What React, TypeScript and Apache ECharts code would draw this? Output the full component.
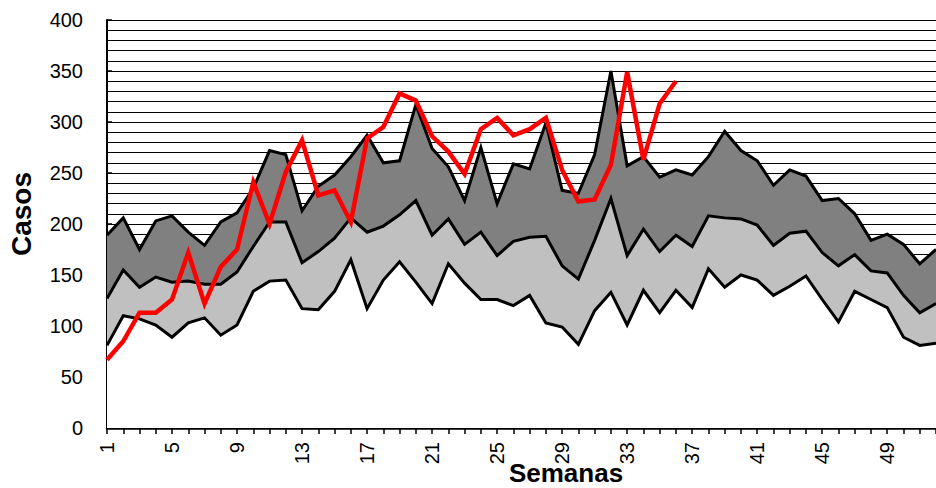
import React, { useEffect, useRef } from "react";
import * as echarts from "echarts";

const weeks = ["1","2","3","4","5","6","7","8","9","10","11","12","13","14","15","16","17","18","19","20","21","22","23","24","25","26","27","28","29","30","31","32","33","34","35","36","37","38","39","40","41","42","43","44","45","46","47","48","49","50","51","52"];

const upperBand = [189, 206, 175, 203, 208, 192, 179, 202, 211, 235, 272, 268, 213, 237, 248, 266, 287, 260, 262, 317, 274, 256, 223, 275, 220, 259, 254, 299, 233, 230, 268, 350, 257, 266, 246, 253, 248, 266, 291, 272, 262, 238, 253, 247, 223, 225, 210, 184, 190, 180, 161, 175];

const middleBand = [127, 155, 138, 148, 143, 144, 141, 141, 153, 178, 202, 202, 162, 173, 186, 206, 192, 198, 209, 223, 189, 205, 180, 192, 169, 183, 187, 188, 159, 146, 184, 225, 169, 195, 173, 189, 178, 208, 206, 205, 199, 179, 191, 193, 172, 159, 170, 154, 152, 130, 113, 122];

const lowerBand = [81, 110, 107, 101, 89, 103, 108, 91, 101, 134, 144, 145, 117, 116, 134, 165, 117, 145, 163, 143, 122, 161, 142, 126, 126, 120, 130, 103, 99, 82, 115, 133, 101, 135, 113, 135, 118, 156, 138, 150, 145, 130, 139, 149, 126, 104, 134, 126, 118, 89, 81, 83];

const currentYear = [67, 85, 113, 113, 126, 172, 122, 158, 175, 241, 200, 251, 282, 228, 233, 202, 284, 295, 328, 321, 286, 271, 249, 293, 304, 287, 293, 304, 253, 222, 224, 258, 349, 263, 318, 340];

const yTitle = "Casos";
const xTitle = "Semanas";

const FONT = "'Liberation Sans', Arial, sans-serif";

export default function App() {
  const ref = useRef<HTMLDivElement>(null);

  useEffect(() => {
    if (!ref.current) return;
    const chart = echarts.init(ref.current, null, { renderer: "svg" });
    const bandLine = { color: "#000", width: 3, join: "miter" as const };
    chart.setOption({
      animation: false,
      backgroundColor: "#fff",
      grid: { left: 107, top: 20, width: 835, height: 408, containLabel: false },
      xAxis: [
        {
          type: "category",
          data: weeks,
          boundaryGap: false,
          position: "bottom",
          axisLine: { show: true, lineStyle: { color: "#000", width: 2.5 } },
          axisTick: { show: true, interval: 0, length: 6, lineStyle: { color: "#000", width: 1.5 } },
          axisLabel: {
            interval: 3,
            rotate: 90,
            margin: 14,
            color: "#000",
            fontSize: 20,
            fontFamily: FONT,
          },
          splitLine: { show: false },
        },
        {
          type: "category",
          data: weeks,
          boundaryGap: false,
          position: "bottom",
          axisLine: { show: false },
          axisTick: { show: true, inside: true, interval: 0, length: 6, lineStyle: { color: "#000", width: 1.5 } },
          axisLabel: { show: false },
          splitLine: { show: false },
        },
      ],
      yAxis: [
        {
          type: "value",
          min: 0,
          max: 400,
          interval: 10,
          position: "left",
          axisLine: { show: true, lineStyle: { color: "#000", width: 2 } },
          axisTick: { show: false },
          axisLabel: { show: false },
          splitLine: { show: true, lineStyle: { color: "#000", width: 1 } },
        },
        {
          type: "value",
          min: 0,
          max: 400,
          interval: 50,
          position: "left",
          axisLine: { show: false },
          axisTick: { show: true, inside: true, length: 5, lineStyle: { color: "#000", width: 1.5 } },
          axisLabel: { color: "#000", fontSize: 20, fontFamily: FONT, margin: 24 },
          splitLine: { show: false },
        },
      ],
      series: [
        {
          type: "line",
          data: upperBand,
          symbol: "none",
          lineStyle: bandLine,
          areaStyle: { color: "#808080", opacity: 1 },
        },
        {
          type: "line",
          data: middleBand,
          symbol: "none",
          lineStyle: bandLine,
          areaStyle: { color: "#C0C0C0", opacity: 1 },
        },
        {
          type: "line",
          data: lowerBand,
          symbol: "none",
          lineStyle: bandLine,
          areaStyle: { color: "#FFFFFF", opacity: 1 },
        },
        {
          type: "line",
          data: currentYear,
          symbol: "none",
          lineStyle: { color: "#FF0000", width: 4.5, join: "miter" },
        },
      ],
      graphic: [
        {
          type: "text",
          x: 21,
          y: 214,
          rotation: Math.PI / 2,
          style: {
            text: yTitle,
            fill: "#000",
            font: `bold 28px ${FONT}`,
            textAlign: "center",
            textVerticalAlign: "middle",
          },
        },
        {
          type: "text",
          x: 566,
          y: 473,
          style: {
            text: xTitle,
            fill: "#000",
            font: `bold 26px ${FONT}`,
            textAlign: "center",
            textVerticalAlign: "middle",
          },
        },
      ],
    });
    return () => chart.dispose();
  }, []);

  return (
    <div style={{ position: "fixed", left: 0, top: 0, width: 936, height: 488, overflow: "hidden", background: "#fff" }}>
      <div ref={ref} style={{ width: 936, height: 488 }} />
    </div>
  );
}
